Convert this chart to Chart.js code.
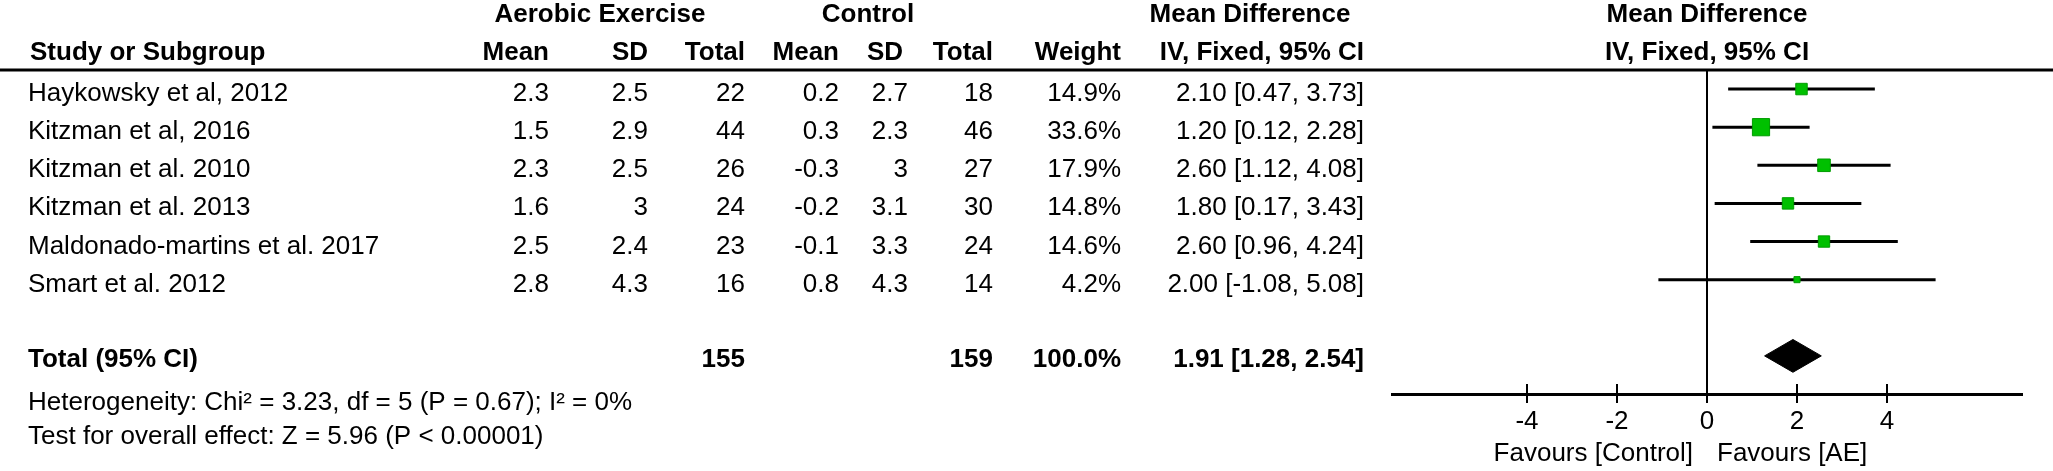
<!DOCTYPE html>
<html>
<head>
<meta charset="utf-8">
<script src="https://cdn.jsdelivr.net/npm/chart.js@4.4.1/dist/chart.umd.min.js"></script>
<style>
  html, body { margin: 0; padding: 0; background: #fff; }
  #wrap { width: 2053px; height: 471px; }
</style>
</head>
<body>
<div id="wrap"><canvas id="forest"></canvas></div>
<script>
// Study data
const studies = ['Haykowsky et al, 2012', 'Kitzman et al, 2016', 'Kitzman et al. 2010',
    'Kitzman et al. 2013', 'Maldonado-martins et al. 2017', 'Smart et al. 2012'];
const aeMean = [2.3, 1.5, 2.3, 1.6, 2.5, 2.8];
const aeSD = [2.5, 2.9, 2.5, 3, 2.4, 4.3];
const aeTotal = [22, 44, 26, 24, 23, 16];
const ctrlMean = [0.2, 0.3, -0.3, -0.2, -0.1, 0.8];
const ctrlSD = [2.7, 2.3, 3, 3.1, 3.3, 4.3];
const ctrlTotal = [18, 46, 27, 30, 24, 14];
const weights = [14.9, 33.6, 17.9, 14.8, 14.6, 4.2];
const meanDiff = [2.10, 1.20, 2.60, 1.80, 2.60, 2.00];
const ciLower = [0.47, 0.12, 1.12, 0.17, 0.96, -1.08];
const ciUpper = [3.73, 2.28, 4.08, 3.43, 4.24, 5.08];

// Pooled result
const totalAE = 155;
const totalCtrl = 159;
const totalWeight = 100.0;
const pooledMD = 1.91;
const pooledLower = 1.28;
const pooledUpper = 2.54;

const xTicks = [-4, -2, 0, 2, 4];
const heterogeneityText = 'Heterogeneity: Chi\u00b2 = 3.23, df = 5 (P = 0.67); I\u00b2 = 0%';
const overallText = 'Test for overall effect: Z = 5.96 (P < 0.00001)';

const TOTAL_ROW = 7;
const FONT = '"Liberation Sans", Arial, sans-serif';
const regular = '26px ' + FONT;
const bold = 'bold 26px ' + FONT;

// one dataset per confidence interval
const ciDatasets = studies.map((s, i) => ({
    label: s,
    data: [{ x: ciLower[i], y: i }, { x: ciUpper[i], y: i }],
    showLine: true,
    borderColor: '#000',
    borderWidth: 3,
    pointRadius: 0,
    order: 2
}));

const squares = {
    label: 'Estimates',
    data: meanDiff.map((v, i) => ({ x: v, y: i })),
    pointStyle: 'rect',
    pointRadius: weights.map(w => 2.1 * Math.sqrt(w)),
    backgroundColor: '#00c000',
    borderColor: '#009c00',
    borderWidth: 1,
    order: 1
};

const diamond = {
    label: 'Total',
    data: [
        { x: pooledLower, y: TOTAL_ROW },
        { x: pooledMD, y: TOTAL_ROW - 0.43 },
        { x: pooledUpper, y: TOTAL_ROW },
        { x: pooledMD, y: TOTAL_ROW + 0.43 },
        { x: pooledLower, y: TOTAL_ROW }
    ],
    showLine: true,
    fill: 'shape',
    tension: 0,
    borderColor: '#000',
    borderWidth: 1,
    backgroundColor: '#000',
    pointRadius: 0,
    order: 1
};

function fmtPct(v) { return v.toFixed(1) + '%'; }
function fmtCI(m, lo, hi) { return m.toFixed(2) + ' [' + lo.toFixed(2) + ', ' + hi.toFixed(2) + ']'; }

// Table text, header rule, zero line and tick marks above the axis
const forestTable = {
    id: 'forestTable',
    afterDraw(chart) {
        const ctx = chart.ctx;
        const x = chart.scales.x;
        const y = chart.scales.y;
        const area = chart.chartArea;

        ctx.save();
        ctx.strokeStyle = '#000';

        // header rule
        ctx.lineWidth = 3;
        ctx.beginPath();
        ctx.moveTo(0, area.top);
        ctx.lineTo(chart.width, area.top);
        ctx.stroke();

        // line of no effect
        const x0 = x.getPixelForValue(0);
        ctx.lineWidth = 2;
        ctx.beginPath();
        ctx.moveTo(x0, area.top);
        ctx.lineTo(x0, area.bottom);
        ctx.stroke();

        // tick marks cross the axis
        xTicks.forEach(t => {
            const px = x.getPixelForValue(t);
            ctx.beginPath();
            ctx.moveTo(px, area.bottom - 10);
            ctx.lineTo(px, area.bottom);
            ctx.stroke();
        });

        ctx.fillStyle = '#000';
        ctx.textBaseline = 'alphabetic';

        const text = (s, px, py, align, font) => {
            ctx.font = font || regular;
            ctx.textAlign = align;
            ctx.fillText(s, px, py);
        };

        const cols = { aeMean: 549, aeSD: 648, aeTotal: 745, cMean: 839, cSD: 908, cTotal: 993, weight: 1121, ci: 1364 };

        // group headers
        text('Aerobic Exercise', 600, 22, 'center', bold);
        text('Control', 868, 22, 'center', bold);
        text('Mean Difference', 1250, 22, 'center', bold);
        text('Mean Difference', x0, 22, 'center', bold);

        // column headers
        const hy = 60;
        text('Study or Subgroup', 30, hy, 'left', bold);
        text('Mean', cols.aeMean, hy, 'right', bold);
        text('SD', cols.aeSD, hy, 'right', bold);
        text('Total', cols.aeTotal, hy, 'right', bold);
        text('Mean', cols.cMean, hy, 'right', bold);
        text('SD', cols.cSD - 5, hy, 'right', bold);
        text('Total', cols.cTotal, hy, 'right', bold);
        text('Weight', cols.weight, hy, 'right', bold);
        text('IV, Fixed, 95% CI', cols.ci, hy, 'right', bold);
        text('IV, Fixed, 95% CI', x0, hy, 'center', bold);

        // study rows
        studies.forEach((s, i) => {
            const py = y.getPixelForValue(i) + 12;
            text(s, 28, py, 'left');
            text(String(aeMean[i]), cols.aeMean, py, 'right');
            text(String(aeSD[i]), cols.aeSD, py, 'right');
            text(String(aeTotal[i]), cols.aeTotal, py, 'right');
            text(String(ctrlMean[i]), cols.cMean, py, 'right');
            text(String(ctrlSD[i]), cols.cSD, py, 'right');
            text(String(ctrlTotal[i]), cols.cTotal, py, 'right');
            text(fmtPct(weights[i]), cols.weight, py, 'right');
            text(fmtCI(meanDiff[i], ciLower[i], ciUpper[i]), cols.ci, py, 'right');
        });

        // total row
        const ty = y.getPixelForValue(TOTAL_ROW) + 11;
        text('Total (95% CI)', 28, ty, 'left', bold);
        text(String(totalAE), cols.aeTotal, ty, 'right', bold);
        text(String(totalCtrl), cols.cTotal, ty, 'right', bold);
        text(fmtPct(totalWeight), cols.weight, ty, 'right', bold);
        text(fmtCI(pooledMD, pooledLower, pooledUpper), cols.ci, ty, 'right', bold);

        text(heterogeneityText, 28, ty + 43, 'left');
        text(overallText, 28, ty + 77, 'left');

        // direction labels
        text('Favours [Control]', x0 - 14, 461, 'right');
        text('Favours [AE]', x0 + 10, 461, 'left');

        ctx.restore();
    }
};

new Chart(document.getElementById('forest'), {
    type: 'scatter',
    data: { datasets: [...ciDatasets, squares, diamond] },
    options: {
        responsive: true,
        maintainAspectRatio: false,
        animation: false,
        layout: { padding: { left: 1392, right: 31, top: 70, bottom: 0 } },
        plugins: {
            legend: { display: false },
            tooltip: { enabled: false }
        },
        scales: {
            x: {
                type: 'linear',
                min: -7,
                max: 7,
                afterBuildTicks: (axis) => { axis.ticks = xTicks.map(v => ({ value: v })); },
                afterFit: (axis) => { axis.height = 77; },
                border: { display: true, color: '#000', width: 3 },
                grid: { drawOnChartArea: false, drawTicks: true, tickLength: 9, color: '#000', lineWidth: 2 },
                ticks: { color: '#000', padding: 3, font: { family: FONT, size: 26 } }
            },
            y: {
                type: 'linear',
                display: false,
                reverse: true,
                min: -0.5,
                max: 8
            }
        }
    },
    plugins: [forestTable]
});
</script>
</body>
</html>
